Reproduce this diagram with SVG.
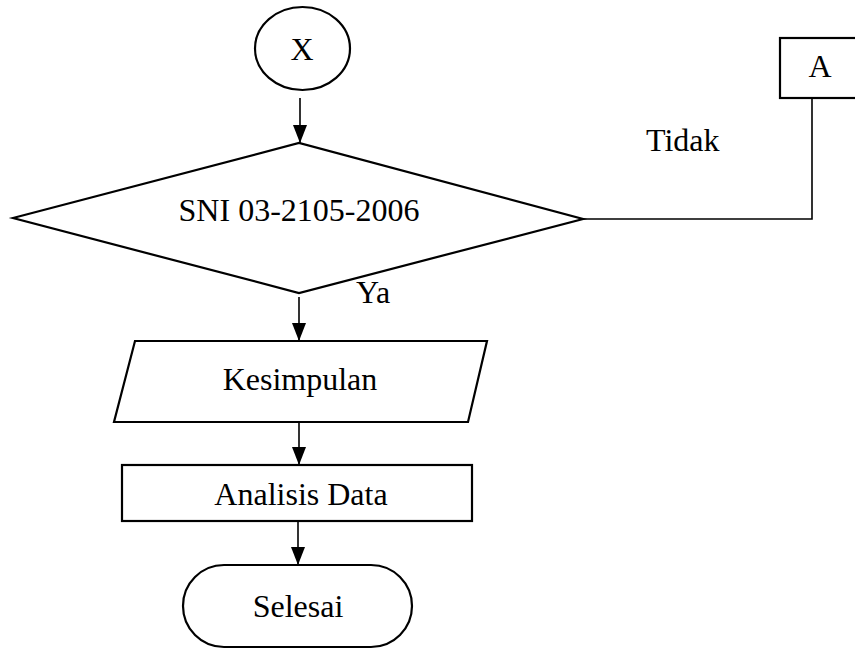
<svg xmlns="http://www.w3.org/2000/svg" width="855" height="649" viewBox="0 0 855 649">
<style>
.s{fill:#fff;stroke:#000;stroke-width:2.2}
.t{font-family:"Liberation Serif","Times New Roman",serif;font-size:32px;fill:#000}
.c{text-anchor:middle}
.l{fill:none;stroke:#000;stroke-width:1.6}
</style>
<defs>
<marker id="ah" markerWidth="14" markerHeight="18" refX="7" refY="18" orient="auto-start-reverse" markerUnits="userSpaceOnUse" viewBox="0 0 14 18">
<path d="M0,0 L14,0 L7,18 Z" fill="#000" transform="rotate(-90 7 9) translate(0 0)"/>
</marker>
<marker id="arr" markerWidth="18" markerHeight="14" refX="18" refY="7" orient="auto" markerUnits="userSpaceOnUse" viewBox="0 0 18 14">
<path d="M0,0 L18,7 L0,14 Z" fill="#000"/>
</marker>
</defs>
<rect width="855" height="649" fill="#fff"/>
<g id="connectors">
<line class="l" x1="300" y1="98" x2="300" y2="143" marker-end="url(#arr)"/>
<line class="l" x1="299" y1="297" x2="299" y2="341" marker-end="url(#arr)"/>
<line class="l" x1="299" y1="422" x2="299" y2="465" marker-end="url(#arr)"/>
<line class="l" x1="298" y1="521" x2="298" y2="565" marker-end="url(#arr)"/>
<polyline class="l" points="583,219 812,219 812,98"/>
</g>
<g id="node-x">
<ellipse class="s" cx="302.5" cy="48.5" rx="47.5" ry="41.5"/>
<text class="t c" x="302" y="60">X</text>
</g>
<g id="node-a">
<rect class="s" x="780" y="38" width="85" height="60"/>
<text class="t c" x="820" y="77">A</text>
</g>
<g id="node-decision">
<polygon class="s" points="13,218 299,143 583,219 299,293"/>
<text class="t c" x="299" y="221">SNI 03-2105-2006</text>
</g>
<text class="t" x="646" y="151">Tidak</text>
<text class="t" x="356" y="303">Ya</text>
<g id="node-kesimpulan">
<polygon class="s" points="135,341 487,341 468,422 114,422"/>
<text class="t c" x="300" y="390">Kesimpulan</text>
</g>
<g id="node-analisis">
<rect class="s" x="122" y="465" width="350" height="56"/>
<text class="t c" x="301" y="505">Analisis Data</text>
</g>
<g id="node-selesai">
<rect class="s" x="183" y="565" width="229" height="82" rx="41" ry="41"/>
<text class="t c" x="298" y="617">Selesai</text>
</g>
</svg>
